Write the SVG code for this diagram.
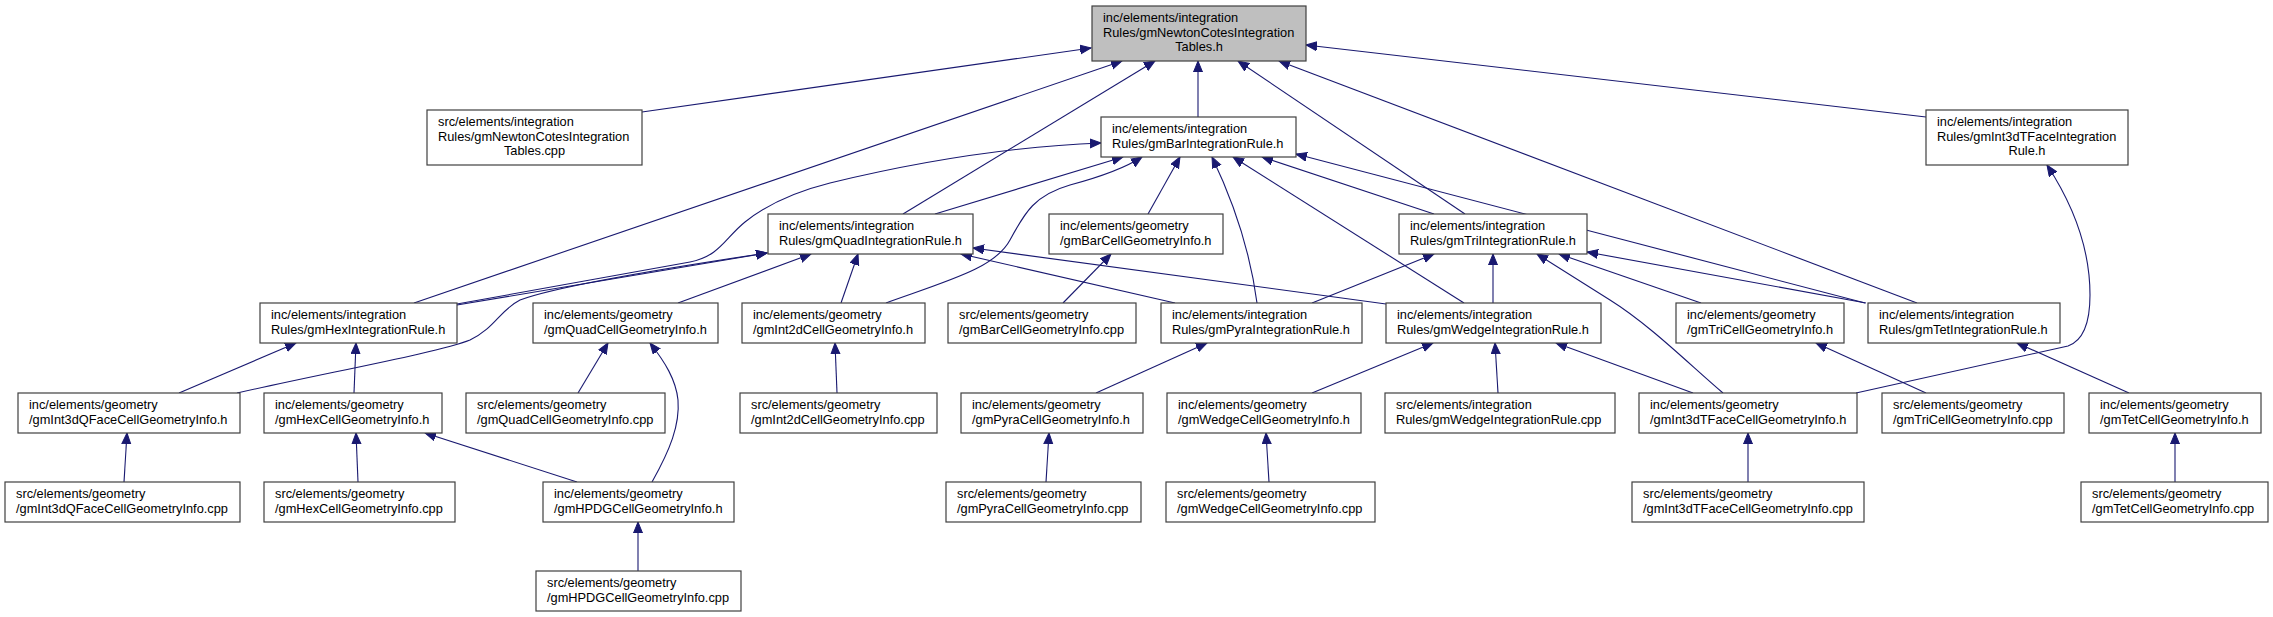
<svg xmlns="http://www.w3.org/2000/svg" width="2273" height="617" viewBox="0 0 2273 617">
<style>
.n rect{fill:#ffffff;stroke:#404040;stroke-width:1.2}
.m rect{fill:#bfbfbf;stroke:#404040;stroke-width:1.2}
text{font-family:"Liberation Sans",Arial,Helvetica,sans-serif;font-size:12.8px;fill:#000000}
.c{text-anchor:middle}
#edges path{fill:none;stroke:#191970;stroke-width:1.1;marker-end:url(#arr)}
</style>
<defs>
<marker id="arr" markerUnits="userSpaceOnUse" markerWidth="12" markerHeight="11" refX="11" refY="5" orient="auto">
<path d="M0,0.5 L11,5 L0,9.5 Z" fill="#191970" stroke="#191970" stroke-width="1"/>
</marker>
</defs>
<rect width="2273" height="617" fill="#ffffff"/>
<g id="edges">
<path d="M642,112 L1091,48"/>
<path d="M414,303 L1122,61"/>
<path d="M903,214 L1155,61"/>
<path d="M1198,117 L1198,61"/>
<path d="M1465,214 L1238,61"/>
<path d="M1917,303 L1279,61"/>
<path d="M1926,117 L1306,45"/>
<path d="M457,304 L690,262 C720,256 725,238 745,222 C765,206 790,193 830,183 C900,166 1000,147 1101,143"/>
<path d="M935,214 L1123,157"/>
<path d="M886,303 C950,280 995,268 1010,240 C1025,212 1035,195 1070,185 C1100,177 1125,168 1142,157"/>
<path d="M1148,214 L1180,157"/>
<path d="M1257,303 C1250,250 1235,205 1212,157"/>
<path d="M1464,303 L1233,157"/>
<path d="M1434,214 L1262,157"/>
<path d="M1865,303 L1296,154"/>
<path d="M457,305 L767,253"/>
<path d="M237,393 C330,372 440,352 470,340 C495,328 500,310 520,300 C560,285 680,266 767,253"/>
<path d="M678,303 L811,254"/>
<path d="M841,303 L858,254"/>
<path d="M1175,303 L961,254"/>
<path d="M1386,304 L973,248"/>
<path d="M1312,303 L1434,254"/>
<path d="M1493,303 L1493,254"/>
<path d="M1723,393 C1690,365 1650,325 1610,300 L1537,254"/>
<path d="M1701,303 L1559,254"/>
<path d="M1866,303 L1587,252"/>
<path d="M1856,393 L2068,346 C2085,340 2090,320 2090,295 C2090,245 2070,200 2047,165"/>
<path d="M179,393 L296,343"/>
<path d="M354,393 L356,343"/>
<path d="M578,393 L608,343"/>
<path d="M652,482 C670,450 680,425 678,400 C676,380 665,362 650,343"/>
<path d="M837,393 L835,343"/>
<path d="M1063,303 L1111,254"/>
<path d="M1096,393 L1207,343"/>
<path d="M1312,393 L1433,343"/>
<path d="M1498,393 L1495,343"/>
<path d="M1693,393 L1556,343"/>
<path d="M1926,393 L1816,343"/>
<path d="M2129,393 L2017,343"/>
<path d="M124,482 L127,433"/>
<path d="M358,482 L356,433"/>
<path d="M577,482 L425,433"/>
<path d="M1046,482 L1049,433"/>
<path d="M1269,482 L1266,433"/>
<path d="M1748,482 L1748,433"/>
<path d="M2175,482 L2175,433"/>
<path d="M638,571 L638,522"/>
</g>
<g id="main" class="m"><rect x="1092" y="6" width="214" height="55"/><text x="1103" y="21.5">inc/elements/integration</text><text x="1103" y="36.5">Rules/gmNewtonCotesIntegration</text><text class="c" x="1199" y="51">Tables.h</text></g>
<g id="newtonCpp" class="n"><rect x="427" y="110" width="215" height="55"/><text x="438" y="125.5">src/elements/integration</text><text x="438" y="140.5">Rules/gmNewtonCotesIntegration</text><text class="c" x="534.5" y="155">Tables.cpp</text></g>
<g id="int3dTFaceRule" class="n"><rect x="1926" y="110" width="202" height="55"/><text x="1937" y="125.5">inc/elements/integration</text><text x="1937" y="140.5">Rules/gmInt3dTFaceIntegration</text><text class="c" x="2027" y="155">Rule.h</text></g>
<g id="barRule" class="n"><rect x="1101" y="117" width="195" height="40"/><text x="1112" y="132.5">inc/elements/integration</text><text x="1112" y="147.5">Rules/gmBarIntegrationRule.h</text></g>
<g id="quadRule" class="n"><rect x="768" y="214" width="205" height="40"/><text x="779" y="229.5">inc/elements/integration</text><text x="779" y="244.5">Rules/gmQuadIntegrationRule.h</text></g>
<g id="barCellH" class="n"><rect x="1049" y="214" width="174" height="40"/><text x="1060" y="229.5">inc/elements/geometry</text><text x="1060" y="244.5">/gmBarCellGeometryInfo.h</text></g>
<g id="triRule" class="n"><rect x="1399" y="214" width="188" height="40"/><text x="1410" y="229.5">inc/elements/integration</text><text x="1410" y="244.5">Rules/gmTriIntegrationRule.h</text></g>
<g id="hexRule" class="n"><rect x="260" y="303" width="197" height="40"/><text x="271" y="318.5">inc/elements/integration</text><text x="271" y="333.5">Rules/gmHexIntegrationRule.h</text></g>
<g id="quadCellH" class="n"><rect x="533" y="303" width="185" height="40"/><text x="544" y="318.5">inc/elements/geometry</text><text x="544" y="333.5">/gmQuadCellGeometryInfo.h</text></g>
<g id="int2dCellH" class="n"><rect x="742" y="303" width="183" height="40"/><text x="753" y="318.5">inc/elements/geometry</text><text x="753" y="333.5">/gmInt2dCellGeometryInfo.h</text></g>
<g id="barCellCpp" class="n"><rect x="948" y="303" width="188" height="40"/><text x="959" y="318.5">src/elements/geometry</text><text x="959" y="333.5">/gmBarCellGeometryInfo.cpp</text></g>
<g id="pyraRule" class="n"><rect x="1161" y="303" width="201" height="40"/><text x="1172" y="318.5">inc/elements/integration</text><text x="1172" y="333.5">Rules/gmPyraIntegrationRule.h</text></g>
<g id="wedgeRule" class="n"><rect x="1386" y="303" width="215" height="40"/><text x="1397" y="318.5">inc/elements/integration</text><text x="1397" y="333.5">Rules/gmWedgeIntegrationRule.h</text></g>
<g id="triCellH" class="n"><rect x="1676" y="303" width="168" height="40"/><text x="1687" y="318.5">inc/elements/geometry</text><text x="1687" y="333.5">/gmTriCellGeometryInfo.h</text></g>
<g id="tetRule" class="n"><rect x="1868" y="303" width="192" height="40"/><text x="1879" y="318.5">inc/elements/integration</text><text x="1879" y="333.5">Rules/gmTetIntegrationRule.h</text></g>
<g id="int3dQFaceH" class="n"><rect x="18" y="393" width="222" height="40"/><text x="29" y="408.5">inc/elements/geometry</text><text x="29" y="423.5">/gmInt3dQFaceCellGeometryInfo.h</text></g>
<g id="hexCellH" class="n"><rect x="264" y="393" width="178" height="40"/><text x="275" y="408.5">inc/elements/geometry</text><text x="275" y="423.5">/gmHexCellGeometryInfo.h</text></g>
<g id="quadCellCpp" class="n"><rect x="466" y="393" width="199" height="40"/><text x="477" y="408.5">src/elements/geometry</text><text x="477" y="423.5">/gmQuadCellGeometryInfo.cpp</text></g>
<g id="int2dCellCpp" class="n"><rect x="740" y="393" width="197" height="40"/><text x="751" y="408.5">src/elements/geometry</text><text x="751" y="423.5">/gmInt2dCellGeometryInfo.cpp</text></g>
<g id="pyraCellH" class="n"><rect x="961" y="393" width="182" height="40"/><text x="972" y="408.5">inc/elements/geometry</text><text x="972" y="423.5">/gmPyraCellGeometryInfo.h</text></g>
<g id="wedgeCellH" class="n"><rect x="1167" y="393" width="194" height="40"/><text x="1178" y="408.5">inc/elements/geometry</text><text x="1178" y="423.5">/gmWedgeCellGeometryInfo.h</text></g>
<g id="wedgeRuleCpp" class="n"><rect x="1385" y="393" width="230" height="40"/><text x="1396" y="408.5">src/elements/integration</text><text x="1396" y="423.5">Rules/gmWedgeIntegrationRule.cpp</text></g>
<g id="int3dTFaceH" class="n"><rect x="1639" y="393" width="218" height="40"/><text x="1650" y="408.5">inc/elements/geometry</text><text x="1650" y="423.5">/gmInt3dTFaceCellGeometryInfo.h</text></g>
<g id="triCellCpp" class="n"><rect x="1882" y="393" width="182" height="40"/><text x="1893" y="408.5">src/elements/geometry</text><text x="1893" y="423.5">/gmTriCellGeometryInfo.cpp</text></g>
<g id="tetCellH" class="n"><rect x="2089" y="393" width="172" height="40"/><text x="2100" y="408.5">inc/elements/geometry</text><text x="2100" y="423.5">/gmTetCellGeometryInfo.h</text></g>
<g id="int3dQFaceCpp" class="n"><rect x="5" y="482" width="235" height="40"/><text x="16" y="497.5">src/elements/geometry</text><text x="16" y="512.5">/gmInt3dQFaceCellGeometryInfo.cpp</text></g>
<g id="hexCellCpp" class="n"><rect x="264" y="482" width="191" height="40"/><text x="275" y="497.5">src/elements/geometry</text><text x="275" y="512.5">/gmHexCellGeometryInfo.cpp</text></g>
<g id="hpdgH" class="n"><rect x="543" y="482" width="191" height="40"/><text x="554" y="497.5">inc/elements/geometry</text><text x="554" y="512.5">/gmHPDGCellGeometryInfo.h</text></g>
<g id="pyraCellCpp" class="n"><rect x="946" y="482" width="195" height="40"/><text x="957" y="497.5">src/elements/geometry</text><text x="957" y="512.5">/gmPyraCellGeometryInfo.cpp</text></g>
<g id="wedgeCellCpp" class="n"><rect x="1166" y="482" width="209" height="40"/><text x="1177" y="497.5">src/elements/geometry</text><text x="1177" y="512.5">/gmWedgeCellGeometryInfo.cpp</text></g>
<g id="int3dTFaceCpp" class="n"><rect x="1632" y="482" width="232" height="40"/><text x="1643" y="497.5">src/elements/geometry</text><text x="1643" y="512.5">/gmInt3dTFaceCellGeometryInfo.cpp</text></g>
<g id="tetCellCpp" class="n"><rect x="2081" y="482" width="187" height="40"/><text x="2092" y="497.5">src/elements/geometry</text><text x="2092" y="512.5">/gmTetCellGeometryInfo.cpp</text></g>
<g id="hpdgCpp" class="n"><rect x="536" y="571" width="205" height="40"/><text x="547" y="586.5">src/elements/geometry</text><text x="547" y="601.5">/gmHPDGCellGeometryInfo.cpp</text></g>
</svg>
